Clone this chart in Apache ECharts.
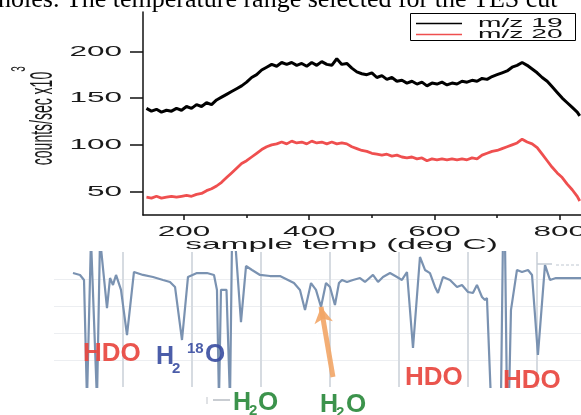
<!DOCTYPE html>
<html>
<head>
<meta charset="utf-8">
<script src="https://cdn.jsdelivr.net/npm/echarts@6.0.0/dist/echarts.min.js"></script>
<style>
html,body{margin:0;padding:0;background:#fff}
#main{width:581px;height:415px}
</style>
</head>
<body>
<div id="main"></div>
<script>
// TPD trace, sample temp (deg C) vs counts/sec x10^3
var tempX = [140,148,156,164,172,180,188,196,204,212,220,228,236,244,252,260,268,276,284,292,300,308,316,324,332,340,348,356,364,372,380,388,396,404,412,420,428,436,444,452,460,468,476,484,492,500,508,516,524,532,540,548,556,564,572,580,588,596,604,612,620,628,636,644,652,660,668,676,684,692,700,708,716,724,732,740,748,756,764,772,780,788,796,804,812,820,828,832];
var mz19 = [139,136,138,135,137,136,139,137,141,139,143,141,145,143,148,151,154,157,160,163,167,172,175,180,183,186,184,188,186,188,185,187,184,188,185,189,186,185,192,186,187,182,178,176,175,177,172,174,170,172,168,169,166,168,165,167,163,166,165,167,164,166,165,168,167,169,168,171,170,173,175,177,179,183,185,188,185,181,177,172,168,162,156,150,145,140,135,131];
var mz20 = [44,43,45,43,44,45,44,45,46,45,47,48,51,53,56,60,65,70,75,80,83,87,91,95,98,100,101,103,101,104,102,103,101,104,102,103,101,103,101,102,101,98,96,94,93,91,90,89,90,88,89,87,86,87,85,86,83,85,84,85,84,85,84,85,84,86,85,89,91,93,94,96,98,100,102,106,103,101,97,90,83,76,70,65,58,52,45,40];
var tempTicks = [200,400,600,800];
var tempMinor = [300,500,700];
var countTicks = [50,100,150,200];
var seriesNames = ['m/z 19','m/z 20'];

// IR spectrum underneath (arbitrary units, -10 / 110 run off the panel)
var specX = [27.5,37.7,43.5,47.8,53.6,62.3,66.7,76.8,81.2,85.5,89.9,97.1,105.8,115.9,129.0,143.5,158.0,168.1,175.4,185.5,194.2,207.2,221.7,231.9,236.2,239.1,242.0,250.0,255.1,258.0,262.3,271.0,278.3,287.0,298.6,313.0,327.5,339.1,347.8,356.5,363.8,372.5,379.7,387.0,394.2,400.0,407.2,413.0,417.4,424.6,433.3,443.5,450.7,462.3,469.6,476.8,487.0,497.1,504.3,511.6,520.3,530.4,537.7,544.9,552.2,556.5,563.8,573.9,584.1,591.3,600.0,607.2,613.0,620.3,624.6,627.5,633.3,647.8,650.7,653.6,656.5,659.4,662.3,671.0,678.3,687.0,692.8,701.4,711.6,718.8,727.5,763.8];
var specY = [84.4,83.0,79.3,-10,110,-10,110,58.5,80.7,75.6,83.0,71.9,38.5,85.2,83.0,81.5,79.3,77.8,74.1,34.8,81.5,84.4,84.4,83.0,71.9,-10,72,72,-10,110,110,48.1,89.6,86.7,83.0,82.2,82.2,79.3,77.0,71.9,57.0,77.0,71.9,59.3,77.0,74.1,60.7,77.0,79.3,77.8,79.3,80.7,77.8,83.0,77.8,81.5,84.4,81.5,79.3,85.2,28.9,96.3,86.7,84.4,74.1,69.6,81.5,79.3,74.1,75.6,70.4,69.6,75.6,66.7,64.4,65.9,-10,-10,110,110,-10,-10,57.0,86.7,85.2,86.7,83.0,23.7,90.4,79.3,80.7,80.7];
var arrowFrom = [404.3, 7.4];
var arrowTo = [387.0, 59.3];

var black = '#000';
var red = '#ef4f4f';
var axisCol = '#111';

var chart = echarts.init(document.getElementById('main'));

function pairs(xs, ys) {
  return xs.map(function (x, i) { return [x, ys[i]]; });
}

var option = {
  animation: false,
  backgroundColor: '#fff',
  grid: [
    {left: 143, right: 0, top: 12, bottom: 200},
    {left: 54, right: 0, top: 252, bottom: 28}
  ],
  xAxis: [
    {
      gridIndex: 0, type: 'value', min: 134.5, max: 834, position: 'bottom',
      axisLine: {lineStyle: {color: axisCol, width: 1.5}},
      axisTick: {customValues: tempTicks, length: 5, lineStyle: {color: axisCol, width: 1.5}},
      axisLabel: {show: false},
      splitLine: {show: false}
    },
    {
      gridIndex: 0, type: 'value', min: 134.5, max: 834, position: 'bottom',
      axisLine: {show: false},
      axisTick: {customValues: tempMinor, length: 3, lineStyle: {color: axisCol, width: 1.5}},
      axisLabel: {show: false},
      splitLine: {show: false}
    },
    {
      gridIndex: 1, type: 'value', min: 0, max: 763.8, interval: 100, z: 3,
      axisLine: {show: false}, axisTick: {show: false}, axisLabel: {show: false},
      splitLine: {show: true, showMinLine: false, showMaxLine: false, lineStyle: {color: '#d6dbe1', width: 2}}
    }
  ],
  yAxis: [
    {
      gridIndex: 0, type: 'value', min: 25, max: 242,
      axisLine: {show: true, lineStyle: {color: axisCol, width: 1.5}},
      axisTick: {show: true, customValues: countTicks, length: 13, lineStyle: {color: axisCol, width: 1.5}},
      axisLabel: {show: false},
      splitLine: {show: false}
    },
    {
      gridIndex: 1, type: 'value', min: 0, max: 100, interval: 20, z: 3,
      axisLine: {show: false}, axisTick: {show: false}, axisLabel: {show: false},
      splitLine: {show: true, showMinLine: false, showMaxLine: false, lineStyle: {color: '#eceef1', width: 1}}
    }
  ],
  series: [
    {
      name: seriesNames[0], type: 'line', xAxisIndex: 0, yAxisIndex: 0,
      data: pairs(tempX, mz19), showSymbol: false, z: 4,
      lineStyle: {color: black, width: 3}
    },
    {
      name: seriesNames[1], type: 'line', xAxisIndex: 0, yAxisIndex: 0,
      data: pairs(tempX, mz20), showSymbol: false, z: 4,
      lineStyle: {color: red, width: 2.8}
    },
    {
      name: 'spectrum', type: 'line', xAxisIndex: 2, yAxisIndex: 1,
      data: pairs(specX, specY), showSymbol: false, clip: true, z: 4,
      lineStyle: {color: '#7a92b1', width: 2.2},
      markLine: {
        silent: true, symbol: ['none', 'arrow'], symbolSize: [14, 16],
        label: {show: false},
        lineStyle: {color: '#f2a566', width: 5, type: 'solid', opacity: 0.9},
        data: [[{coord: arrowFrom}, {coord: arrowTo}]]
      }
    }
  ]
};
chart.setOption(option);

// stretched labels (the figure was widened), placed through the axes
var stretch = 2.25;
var sans = '"Liberation Sans", Arial, sans-serif';
var gfx = [];

gfx.push({
  type: 'text', x: -2, y: 0, z: 10,
  style: {text: 'holes. The temperature range selected for the TES cut', x: 0, y: 0,
    align: 'left', verticalAlign: 'middle', font: '26px "Liberation Serif", serif', fill: '#000'}
});

tempTicks.forEach(function (v) {
  var p = chart.convertToPixel({gridIndex: 0}, [v, 25]);
  gfx.push({type: 'text', x: p[0], y: p[1] + 17, scaleX: stretch, z: 10,
    style: {text: String(v), x: 0, y: 0, align: 'center', verticalAlign: 'middle', font: '14px ' + sans, fill: '#1a1a1a'}});
});
countTicks.forEach(function (v) {
  var p = chart.convertToPixel({gridIndex: 0}, [134.5, v]);
  gfx.push({type: 'text', x: p[0] - 21, y: p[1] + 0.5, scaleX: stretch, z: 10,
    style: {text: String(v), x: 0, y: 0, align: 'right', verticalAlign: 'middle', font: '14px ' + sans, fill: '#1a1a1a'}});
});

// x title, its lower part is hidden under the spectrum panel
gfx.push({type: 'text', x: 341.5, y: 245, scaleX: 2.31, z: 1,
  style: {text: 'sample temp (deg C)', x: 0, y: 0, align: 'center', verticalAlign: 'middle', font: '14.5px ' + sans, fill: '#1a1a1a'}});
gfx.push({type: 'rect', z: 2, shape: {x: 73, y: 252, width: 508, height: 163}, style: {fill: '#fff'}});

// y title
gfx.push({type: 'text', x: 43.5, y: 118.5, rotation: Math.PI / 2, scaleY: stretch, z: 10,
  style: {text: 'counts/sec x10', x: 0, y: 0, align: 'center', verticalAlign: 'middle', font: '14px ' + sans, fill: '#1a1a1a'}});
gfx.push({type: 'text', x: 19, y: 69, rotation: Math.PI / 2, scaleY: 2, z: 10,
  style: {text: '3', x: 0, y: 0, align: 'center', verticalAlign: 'middle', font: '10px ' + sans, fill: '#1a1a1a'}});

// legend
gfx.push({type: 'rect', z: 10, shape: {x: 410.5, y: 13.5, width: 165, height: 27}, style: {fill: '#fff', stroke: '#000', lineWidth: 1}});
[black, red].forEach(function (c, i) {
  var y = 23.5 + i * 11;
  gfx.push({type: 'line', z: 11, shape: {x1: 416, y1: y, x2: 462, y2: y}, style: {stroke: c, lineWidth: 1.5}});
  gfx.push({type: 'text', x: 478, y: y, scaleX: 2.35, z: 11,
    style: {text: seriesNames[i], x: 0, y: 0, align: 'left', verticalAlign: 'middle', font: '12px ' + sans, fill: '#111'}});
});

// spectrum annotations
var bold = 'bold 26px ' + sans;
var hdoRed = '#e8463f', blue = '#3c4fa2', green = '#2b8a3d';
function lab(t, x, y, c, f) {
  gfx.push({type: 'text', x: x, y: y, z: 12,
    style: {text: t, x: 0, y: 0, align: 'left', verticalAlign: 'middle', font: f, fill: c, opacity: 0.92}});
}
lab('HDO', 83, 354, hdoRed, bold);
lab('HDO', 405, 378, hdoRed, bold);
lab('HDO', 503, 381, hdoRed, bold);
lab('H', 156, 357, blue, 'bold 25px ' + sans);
lab('2', 172, 369, blue, 'bold 15px ' + sans);
lab('18', 187, 349, blue, 'bold 15px ' + sans);
lab('O', 205, 355, blue, 'bold 26px ' + sans);
lab('H', 233, 403, green, 'bold 25px ' + sans);
lab('2', 249, 411, green, 'bold 15px ' + sans);
lab('O', 258, 403, green, 'bold 26px ' + sans);
lab('H', 320, 405, green, 'bold 25px ' + sans);
lab('2', 336, 413, green, 'bold 15px ' + sans);
lab('O', 346, 405, green, 'bold 26px ' + sans);
gfx.push({type: 'line', z: 12, shape: {x1: 213, y1: 400, x2: 230, y2: 400}, style: {stroke: '#c9cdd2', lineWidth: 2}});
gfx.push({type: 'line', z: 12, shape: {x1: 207, y1: 397, x2: 207, y2: 404}, style: {stroke: '#d6d9dd', lineWidth: 1.5}});
gfx.push({type: 'line', z: 12, shape: {x1: 537, y1: 264, x2: 552, y2: 264}, style: {stroke: '#c3cbd5', lineWidth: 1.5}});
gfx.push({type: 'line', z: 12, shape: {x1: 556, y1: 265, x2: 581, y2: 265}, style: {stroke: '#dfe3e8', lineWidth: 2, lineDash: [3, 2]}});

chart.setOption({graphic: {elements: gfx}});
</script>
</body>
</html>
